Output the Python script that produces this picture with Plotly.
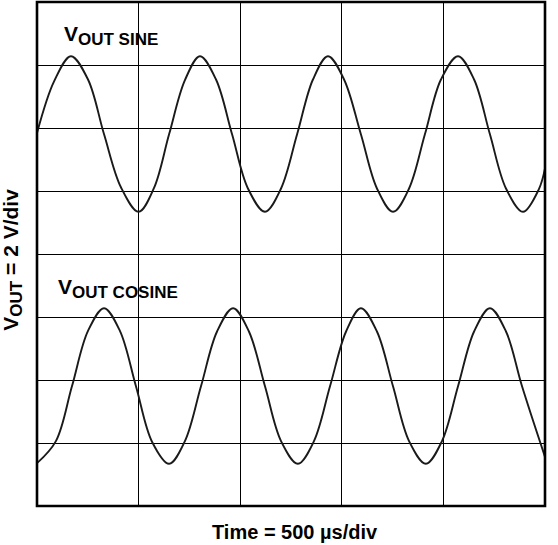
import plotly.graph_objects as go

# Time in microseconds, voltage in screen divisions (2 V/div)
sine_t = [0, 84, 167, 251, 330, 413, 500, 576, 650, 728, 802, 881, 960, 1038, 1122, 1201,
          1280, 1358, 1432, 1511, 1594, 1673, 1752, 1831, 1909, 1988, 2072, 2151, 2229,
          2308, 2392, 2470, 2500]
sine_v = [5.92, 6.74, 7.14, 6.77, 5.90, 5.06, 4.67, 5.05, 5.90, 6.76, 7.14, 6.77, 5.90, 5.04,
          4.67, 5.04, 5.90, 6.77, 7.14, 6.77, 5.90, 5.04, 4.67, 5.04, 5.90, 6.77, 7.14, 6.77,
          5.90, 5.04, 4.67, 5.03, 5.36]

cos_t = [0, 93, 172, 251, 330, 408, 487, 566, 650, 728, 807, 886, 965, 1043, 1122, 1201,
         1284, 1363, 1442, 1521, 1594, 1673, 1752, 1831, 1914, 1993, 2072, 2151, 2229, 2308,
         2387, 2500]
cos_v = [0.68, 1.03, 1.90, 2.78, 3.14, 2.78, 1.90, 1.02, 0.67, 1.03, 1.90, 2.77, 3.14, 2.77,
         1.90, 1.03, 0.67, 1.03, 1.90, 2.77, 3.14, 2.77, 1.90, 1.03, 0.67, 1.03, 1.90, 2.77,
         3.14, 2.77, 1.90, 0.78]

x_title = "Time = 500 \u00b5s/div"
y_title = 'V<sub><span style="font-size:17px">OUT</span></sub> = 2 V/div'
sine_label = 'V<sub><span style="font-size:17px">OUT SINE</span></sub>'
cos_label = 'V<sub><span style="font-size:17px">OUT COSINE</span></sub>'

FONT = "Liberation Sans, Arial, sans-serif"

fig = go.Figure()
for t, v in [(sine_t, sine_v), (cos_t, cos_v)]:
    fig.add_trace(go.Scatter(x=t, y=v, mode="lines",
                             line=dict(color="#1a1a1a", width=1.9, shape="spline", smoothing=1.0),
                             hoverinfo="skip", showlegend=False))

fig.update_layout(
    width=558, height=545,
    margin=dict(l=37, r=13, t=2, b=39),
    paper_bgcolor="white", plot_bgcolor="white",
    font=dict(family=FONT, color="black"),
    xaxis=dict(range=[0, 2500], dtick=500, tick0=0, showgrid=True, gridcolor="black", gridwidth=1.2,
               showticklabels=False, ticks="", zeroline=False, showline=False, fixedrange=True),
    yaxis=dict(range=[0, 8], dtick=1, tick0=0, showgrid=True, gridcolor="black", gridwidth=1.2,
               showticklabels=False, ticks="", zeroline=False, showline=False, fixedrange=True),
)

fig.add_shape(type="rect", xref="paper", yref="paper", x0=0, y0=0, x1=1, y1=1,
              line=dict(color="black", width=2.6), fillcolor="rgba(0,0,0,0)", layer="above")

fig.add_annotation(text=sine_label, xref="paper", yref="paper", x=0.049, y=0.903,
                   xanchor="left", yanchor="bottom", showarrow=False,
                   font=dict(size=21, family=FONT, color="black", weight="bold"))
fig.add_annotation(text=cos_label, xref="paper", yref="paper", x=0.037, y=0.401,
                   xanchor="left", yanchor="bottom", showarrow=False,
                   font=dict(size=21, family=FONT, color="black", weight="bold"))

fig.add_annotation(text=x_title, xref="paper", yref="paper", x=0.508, y=-0.052,
                   xanchor="center", yanchor="middle", showarrow=False,
                   font=dict(size=20, family=FONT, color="black", weight="bold"))
fig.add_annotation(text=y_title, xref="paper", yref="paper", x=-0.049, y=0.489,
                   xanchor="center", yanchor="middle", textangle=-90, showarrow=False,
                   font=dict(size=21, family=FONT, color="black", weight="bold"))

fig.write_html("out.html")
